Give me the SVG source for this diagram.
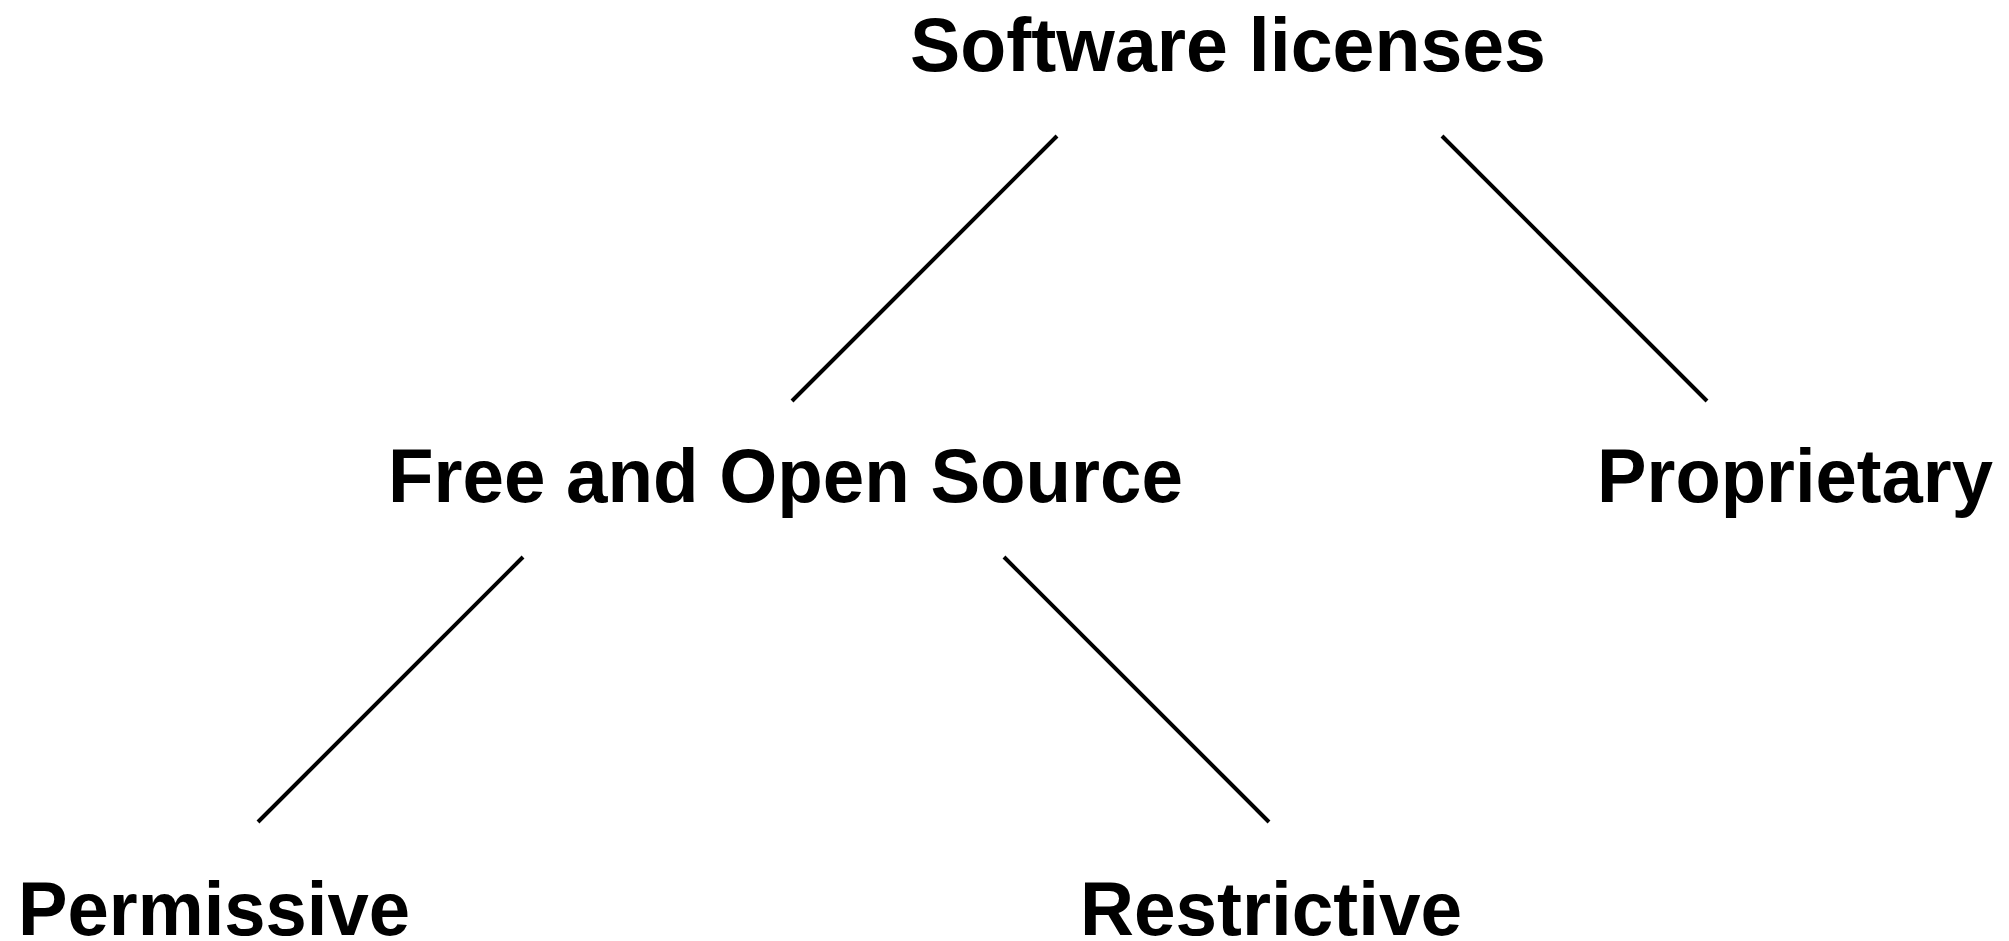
<svg xmlns="http://www.w3.org/2000/svg" width="2009" height="941" viewBox="0 0 2009 941">
  <style>
    .label { font-family: "Liberation Sans", Arial, Helvetica, sans-serif; font-weight: bold; font-size: 76px; fill: #000; }
    .edge { stroke: #000; stroke-width: 4; fill: none; }
  </style>
  <rect width="2009" height="941" fill="#fff"/>

  <!-- tree edges -->
  <g id="connectors">
    <line class="edge" x1="1057" y1="136" x2="792" y2="401"/>
    <line class="edge" x1="1442" y1="136" x2="1707" y2="401"/>
    <line class="edge" x1="523" y1="557" x2="258" y2="822"/>
    <line class="edge" x1="1004" y1="557" x2="1269" y2="822"/>
  </g>

  <!-- tree nodes -->
  <g id="software-licenses">
    <text class="label" x="910" y="70.5" textLength="636" lengthAdjust="spacingAndGlyphs">Software licenses</text>
  </g>
  <g id="foss">
    <text class="label" x="388" y="501.5" textLength="795" lengthAdjust="spacingAndGlyphs">Free and Open Source</text>
  </g>
  <g id="proprietary">
    <text class="label" x="1597" y="501.5" textLength="396" lengthAdjust="spacingAndGlyphs">Proprietary</text>
  </g>
  <g id="permissive">
    <text class="label" x="18" y="935" textLength="392" lengthAdjust="spacingAndGlyphs">Permissive</text>
  </g>
  <g id="restrictive">
    <text class="label" x="1080" y="935" textLength="382" lengthAdjust="spacingAndGlyphs">Restrictive</text>
  </g>
</svg>
